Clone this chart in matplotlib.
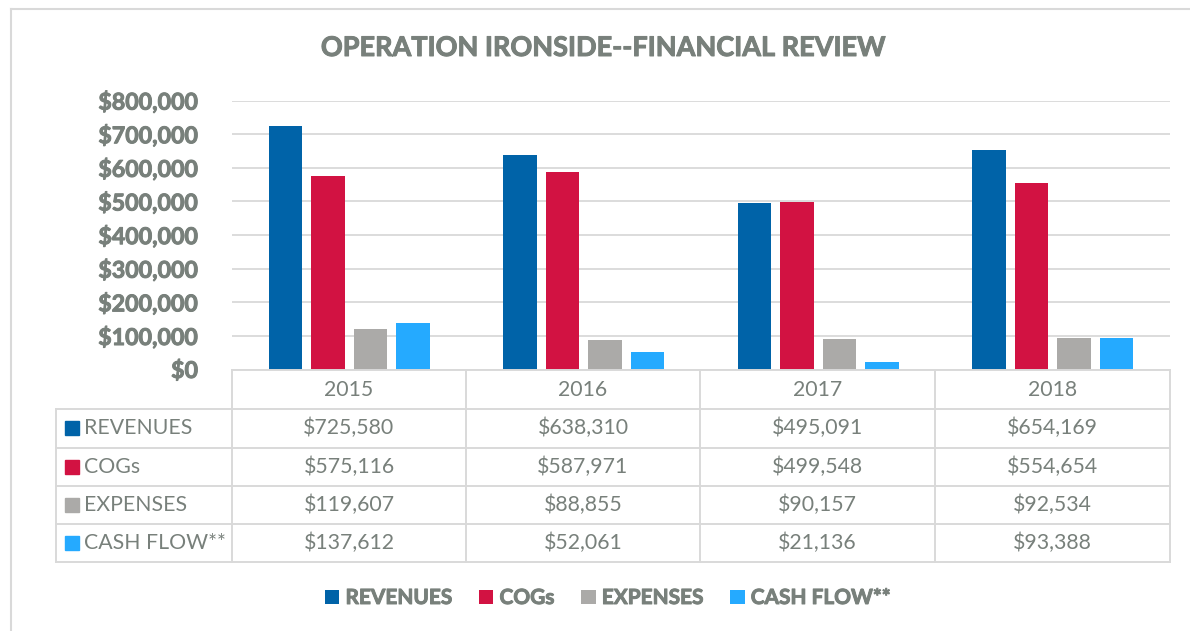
import matplotlib
matplotlib.use("Agg")
import matplotlib.pyplot as plt
from matplotlib.patches import Rectangle
from matplotlib.lines import Line2D
from matplotlib.ticker import FuncFormatter
import matplotlib.patheffects as pe

years = ["2015", "2016", "2017", "2018"]
series_names = ["REVENUES", "COGs", "EXPENSES", "CASH FLOW**"]
revenues = [725580, 638310, 495091, 654169]
cogs = [575116, 587971, 499548, 554654]
expenses = [119607, 88855, 90157, 92534]
cash_flow = [137612, 52061, 21136, 93388]
yticks = [0, 100000, 200000, 300000, 400000, 500000, 600000, 700000, 800000]
title = "OPERATION IRONSIDE--FINANCIAL REVIEW"

values = [revenues, cogs, expenses, cash_flow]
colors = ["#0063A8", "#D21242", "#ABAAA8", "#25AAFF"]
TXT = "#78807B"
GRID = "#D9D9D9"
FONT = "Lato"
heavy = [pe.withStroke(linewidth=0.7, foreground=TXT)]

W, H = 1190, 631
fig = plt.figure(figsize=(W / 100, H / 100), dpi=100)
fig.patch.set_facecolor("white")

def fx(x):
    return x / W

def fy(y):
    return 1 - y / H

# outer frame (extends beyond right/bottom)
fig.add_artist(Line2D([fx(11), fx(11)], [fy(9), fy(640)], color="#D9D9D9", lw=1.5))
fig.add_artist(Line2D([fx(11), fx(1200)], [fy(9), fy(9)], color="#D9D9D9", lw=1.5))

# chart axes
L, R, T, B = 232, 1170, 100.5, 369.5
ax = fig.add_axes([fx(L), fy(B), fx(R) - fx(L), (B - T) / H])
ax.set_xlim(-0.5, 3.5)
ax.set_ylim(0, 800000)
pitch = 0.181
bw = 0.143
for i, (vals, c, name) in enumerate(zip(values, colors, series_names)):
    xs = [j + (i - 1.5) * pitch for j in range(len(years))]
    ax.bar(xs, vals, width=bw, color=c, label=name, zorder=3)
ax.set_yticks(yticks)
ax.yaxis.set_major_formatter(FuncFormatter(lambda v, p: "${:,.0f}".format(v)))
ax.grid(axis="y", color=GRID, lw=1.3, zorder=0)
for s in ax.spines.values():
    s.set_visible(False)
ax.tick_params(axis="y", length=0, pad=24.5, labelsize=16.7, labelcolor=TXT)
for lab in ax.get_yticklabels():
    lab.set_fontweight("bold")
    lab.set_fontfamily(FONT)
    lab.set_path_effects(heavy)
ax.set_xticks([])

fig.text(fx(603), fy(48), title, ha="center", va="center", fontsize=19.5,
         fontweight="bold", color=TXT, family=FONT, path_effects=heavy)

# data table
cols = [56, 232, 466, 700, 935, 1170]
rows = [370, 409, 447.5, 486, 524, 562]
lw = 1.4
def hline(x0, x1, y):
    fig.add_artist(Line2D([fx(x0), fx(x1)], [fy(y), fy(y)], color=GRID, lw=lw))
def vline(x, y0, y1):
    fig.add_artist(Line2D([fx(x), fx(x)], [fy(y0), fy(y1)], color=GRID, lw=lw))

hline(cols[1], cols[-1], rows[0])
for y in rows[1:]:
    hline(cols[0], cols[-1], y)
vline(cols[0], rows[1], rows[-1])
for x in cols[1:]:
    vline(x, rows[0], rows[-1])

TS = 15.3
for j, yr in enumerate(years):
    cx = (cols[j + 1] + cols[j + 2]) / 2
    cy = (rows[0] + rows[1]) / 2
    fig.text(fx(cx), fy(cy), yr, ha="center", va="center", fontsize=TS, color=TXT, family=FONT)
for i, (vals, c, name) in enumerate(zip(values, colors, series_names)):
    cy = (rows[i + 1] + rows[i + 2]) / 2
    fig.add_artist(Rectangle((fx(65), fy(cy + 7)), 14 / W, 14 / H, color=c,
                             transform=fig.transFigure))
    fig.text(fx(84), fy(cy), name, ha="left", va="center", fontsize=TS, color=TXT, family=FONT)
    for j, v in enumerate(vals):
        cx = (cols[j + 1] + cols[j + 2]) / 2
        fig.text(fx(cx), fy(cy), "${:,.0f}".format(v), ha="center", va="center",
                 fontsize=TS, color=TXT, family=FONT)

# legend
handles, labels = ax.get_legend_handles_labels()
leg = fig.legend(handles, labels, loc="center", bbox_to_anchor=(fx(608), fy(598)),
                 ncol=4, frameon=False, handlelength=0.68, handleheight=0.68,
                 handletextpad=0.3, columnspacing=1.3,
                 prop={"family": FONT, "weight": "bold", "size": 15})
for t in leg.get_texts():
    t.set_color(TXT)
    t.set_path_effects(heavy)

fig.savefig("out.png", dpi=100)
